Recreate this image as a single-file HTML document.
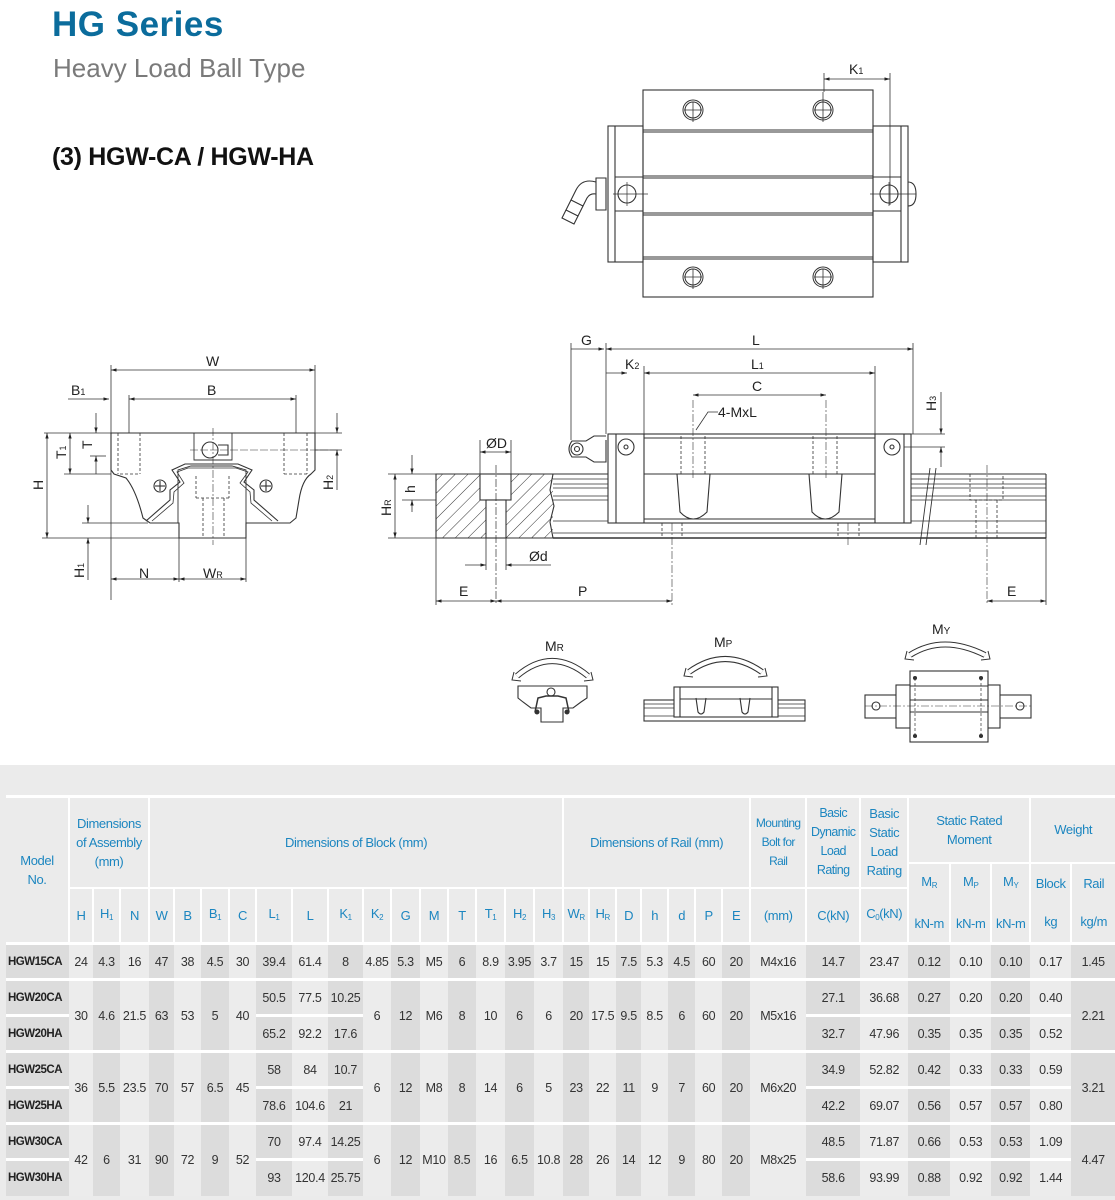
<!DOCTYPE html>
<html><head><meta charset="utf-8">
<style>
html,body{margin:0;padding:0;background:#fff;}
body{width:1115px;height:1200px;position:relative;overflow:hidden;font-family:"Liberation Sans",sans-serif;}
.t1{position:absolute;left:52px;top:5px;font-size:35px;font-weight:bold;color:#0b6c9c;letter-spacing:0.5px;}
.t2{position:absolute;left:53px;top:53px;font-size:26px;color:#7a7a7a;}
.t3{position:absolute;left:52px;top:143px;font-size:25px;color:#111;font-weight:bold;letter-spacing:-0.3px;}
svg.d{position:absolute;left:0;top:0;}
.bg{position:absolute;left:0;top:765px;width:1115px;height:435px;background:#ebebeb;}
table{position:absolute;left:6px;top:795px;border-collapse:collapse;table-layout:fixed;width:1109px;font-family:"Liberation Sans Narrow","Liberation Sans",sans-serif;}
td{text-align:center;vertical-align:middle;padding:0;font-size:12.5px;color:#333;white-space:nowrap;overflow:hidden;letter-spacing:-0.3px;}
thead td{color:#1c86c0;font-size:13px;border:2px solid #fff;background:#ebebeb;line-height:19px;letter-spacing:-0.4px;}
thead tr.top td{border-top:3px solid #fff;}
sub{font-size:8px;vertical-align:-2px;}
tbody td{background:#ececec;}
tbody td.k{background:#dcdcdc;}
tbody tr.g td{border-top:3px solid #fff;}
tbody td.s{border-top:3px solid #fff;}
tbody td.m{font-weight:bold;color:#222;text-align:left;padding-left:2px;background:#dcdcdc;font-size:11.5px;letter-spacing:-0.5px;}
</style></head><body>
<div class="t1">HG Series</div>
<div class="t2">Heavy Load Ball Type</div>
<div class="t3">(3) HGW-CA / HGW-HA</div>

<svg class="d" width="1115" height="765" viewBox="0 0 1115 765" xmlns="http://www.w3.org/2000/svg" font-family="Liberation Sans, sans-serif">
<defs>
<marker id="a" viewBox="0 0 10 10" refX="10" refY="5" markerWidth="7" markerHeight="7" orient="auto-start-reverse"><path d="M0,2 L10,5 L0,8 z" fill="#222"/></marker>
<pattern id="h" width="9" height="9" patternUnits="userSpaceOnUse" patternTransform="rotate(45)"><line x1="0" y1="0" x2="0" y2="9" stroke="#333" stroke-width="1"/></pattern>
</defs>
<g fill="none" stroke="#333" stroke-width="1.1">

<!-- TOP VIEW -->
<rect x="643" y="90" width="230" height="207"/>
<line x1="643" y1="130" x2="873" y2="130"/><line x1="643" y1="132" x2="873" y2="132"/>
<line x1="643" y1="176" x2="873" y2="176"/><line x1="643" y1="178" x2="873" y2="178"/>
<line x1="643" y1="213" x2="873" y2="213"/><line x1="643" y1="215" x2="873" y2="215"/>
<line x1="643" y1="257" x2="873" y2="257"/><line x1="643" y1="259" x2="873" y2="259"/>
<rect x="608" y="126" width="35" height="136"/><line x1="615" y1="126" x2="615" y2="262"/>
<rect x="873" y="126" width="35" height="136"/><line x1="901" y1="126" x2="901" y2="262"/>
<line x1="615" y1="177" x2="643" y2="177"/><line x1="615" y1="211" x2="643" y2="211"/>
<line x1="873" y1="177" x2="901" y2="177"/><line x1="873" y1="211" x2="901" y2="211"/>
<circle cx="627" cy="194" r="9"/><circle cx="889" cy="194" r="9"/>
<line x1="613" y1="194" x2="648" y2="194" stroke-width="0.7"/><line x1="627" y1="182" x2="627" y2="206" stroke-width="0.7"/>
<line x1="870" y1="194" x2="916" y2="194" stroke-width="0.7"/><line x1="889" y1="182" x2="889" y2="206" stroke-width="0.7"/>
<path d="M908,182 q8,0 8,12 q0,12 -8,12"/>
<g stroke-width="1"><circle cx="693" cy="110" r="10"/><circle cx="693" cy="110" r="8"/><circle cx="823" cy="110" r="10"/><circle cx="823" cy="110" r="8"/>
<circle cx="693" cy="277" r="10"/><circle cx="693" cy="277" r="8"/><circle cx="823" cy="277" r="10"/><circle cx="823" cy="277" r="8"/></g>
<g stroke-width="0.8"><line x1="693" y1="102" x2="693" y2="122"/><line x1="684" y1="110" x2="702" y2="110"/>
<line x1="823" y1="92" x2="823" y2="122"/><line x1="814" y1="110" x2="832" y2="110"/>
<line x1="693" y1="269" x2="693" y2="289"/><line x1="684" y1="277" x2="702" y2="277"/>
<line x1="823" y1="269" x2="823" y2="289"/><line x1="814" y1="277" x2="832" y2="277"/></g>
<path d="M606,178 L606,210 L596,210 L596,178 z"/>
<path d="M596,182 q-14,-4 -20,8 l-5,10 l12,6 l4,-8 q3,-5 9,-4"/>
<path d="M571,200 l-5,10 l12,6 l5,-10"/>
<path d="M566,210 l-4,8 l12,6 l4,-8"/>
<line x1="824" y1="73" x2="824" y2="92" stroke-width="0.8"/><line x1="890" y1="73" x2="890" y2="205" stroke-width="0.8"/>
<line x1="824" y1="79" x2="890" y2="79" marker-start="url(#a)" marker-end="url(#a)" stroke-width="0.8"/>

<!-- END VIEW -->
<path d="M111,433 L315,433 L315,470 L311,474 Q302,480 299,500 L296,518 L290,523 L246,523 L246,538 L179,538 L179,523 L150,523 L143,518 Q136,490 126,478 L114,474 L111,470 Z"/>
<path d="M178,523 L178,470 L191,466 L232,466 L246,470 L246,523" stroke-width="0.9"/>
<path d="M146,521 L170,500 L170,490 L180,482 L172,470 L185,464 L238,464 L252,470 L244,482 L254,490 L254,500 L278,521" stroke-width="1.1"/>
<path d="M152,521 L173,503 L174,492 L184,483 L177,472 L188,468 L236,468 L248,472 L240,483 L250,492 L251,503 L272,521" stroke-width="0.8"/>
<g stroke-dasharray="3,2" stroke-width="0.8">
<line x1="118" y1="433" x2="118" y2="474"/><line x1="140" y1="433" x2="140" y2="474"/><line x1="120" y1="474" x2="140" y2="474"/>
<line x1="284" y1="433" x2="284" y2="474"/><line x1="307" y1="433" x2="307" y2="474"/><line x1="284" y1="474" x2="307" y2="474"/>
<line x1="196" y1="476" x2="196" y2="498"/><line x1="229" y1="476" x2="229" y2="498"/><line x1="196" y1="498" x2="229" y2="498"/>
<line x1="203" y1="498" x2="203" y2="538"/><line x1="224" y1="498" x2="224" y2="538"/>
</g>
<line x1="213" y1="428" x2="213" y2="545" stroke-width="0.6" stroke-dasharray="8,2,2,2"/>
<path d="M194,433 L194,460 L232,460 L232,433" stroke-width="0.9"/>
<circle cx="210" cy="450" r="8"/><path d="M218,445 L228,445 L228,455 L218,455" />
<line x1="190" y1="450" x2="340" y2="450" stroke-width="0.6" stroke-dasharray="8,2"/>
<circle cx="160" cy="486" r="6"/><line x1="155" y1="486" x2="165" y2="486"/><line x1="160" y1="481" x2="160" y2="491"/>
<circle cx="266" cy="486" r="6"/><line x1="261" y1="486" x2="271" y2="486"/><line x1="266" y1="481" x2="266" y2="491"/>
<g stroke-width="0.8">
<line x1="111" y1="365" x2="111" y2="600"/><line x1="315" y1="365" x2="315" y2="433"/>
<line x1="111" y1="370" x2="315" y2="370" marker-start="url(#a)" marker-end="url(#a)"/>
<line x1="129" y1="395" x2="129" y2="433"/><line x1="296" y1="395" x2="296" y2="433"/>
<line x1="129" y1="399" x2="296" y2="399" marker-start="url(#a)" marker-end="url(#a)"/>
<line x1="68" y1="399" x2="109" y2="399" marker-end="url(#a)"/>
<line x1="44" y1="433" x2="111" y2="433"/><line x1="64" y1="474" x2="111" y2="474"/>
<line x1="47" y1="433" x2="47" y2="538" marker-start="url(#a)" marker-end="url(#a)"/>
<line x1="70" y1="433" x2="70" y2="474" marker-start="url(#a)" marker-end="url(#a)"/>
<line x1="96" y1="413" x2="96" y2="433" marker-end="url(#a)"/><line x1="96" y1="456" x2="96" y2="474" marker-start="url(#a)"/>
<line x1="90" y1="456" x2="106" y2="456"/>
<line x1="42" y1="538" x2="179" y2="538"/>
<line x1="82" y1="523" x2="148" y2="523"/>
<line x1="88" y1="505" x2="88" y2="523" marker-end="url(#a)"/><line x1="88" y1="538" x2="88" y2="580" marker-start="url(#a)"/>
<line x1="315" y1="433" x2="342" y2="433"/><line x1="315" y1="450" x2="342" y2="450"/>
<line x1="337" y1="413" x2="337" y2="433" marker-end="url(#a)"/><line x1="337" y1="450" x2="337" y2="490" marker-start="url(#a)"/>
<line x1="179" y1="538" x2="179" y2="582"/><line x1="246" y1="538" x2="246" y2="582"/>
<line x1="111" y1="579" x2="179" y2="579" marker-start="url(#a)" marker-end="url(#a)"/>
<line x1="179" y1="579" x2="246" y2="579" marker-start="url(#a)" marker-end="url(#a)"/>
</g>

<!-- SIDE VIEW -->
<rect x="436" y="474" width="117" height="64" fill="url(#h)" stroke="none"/>
<path d="M436,474 L553,474 L550,490 L554,506 L550,522 L553,538 L436,538 Z"/>
<rect x="480" y="474" width="31" height="26" fill="#fff"/>
<rect x="486" y="500" width="20" height="38" fill="#fff"/>
<line x1="496" y1="465" x2="496" y2="605" stroke-width="0.7" stroke-dasharray="8,2,2,2"/>
<line x1="553" y1="474" x2="1046" y2="474"/><line x1="553" y1="538" x2="1046" y2="538" stroke-width="1.4"/>
<g stroke-width="0.8">
<line x1="553" y1="479" x2="1046" y2="479"/><line x1="553" y1="484" x2="1046" y2="484"/><line x1="553" y1="488" x2="1046" y2="488"/>
<line x1="553" y1="496" x2="1046" y2="496"/><line x1="553" y1="500" x2="1046" y2="500"/><line x1="553" y1="521" x2="1046" y2="521"/><line x1="553" y1="533" x2="1046" y2="533"/>
</g>
<line x1="1046" y1="474" x2="1046" y2="538"/>
<rect x="608" y="434" width="303" height="89" fill="#fff"/>
<line x1="616" y1="434" x2="616" y2="523"/><line x1="644" y1="434" x2="644" y2="523"/>
<line x1="875" y1="434" x2="875" y2="523"/><line x1="904" y1="434" x2="904" y2="523"/>
<line x1="644" y1="438" x2="875" y2="438"/><line x1="644" y1="474" x2="875" y2="474"/><line x1="644" y1="519" x2="875" y2="519"/>
<circle cx="626" cy="447" r="8"/><circle cx="626" cy="447" r="2"/>
<circle cx="892" cy="447" r="8"/><circle cx="892" cy="447" r="2"/>
<path d="M677,474 L680,512 Q693,526 707,512 L710,474"/>
<path d="M809,474 L812,512 Q825,526 839,512 L842,474"/>
<g stroke-dasharray="3,2" stroke-width="0.8">
<line x1="681" y1="436" x2="681" y2="474"/><line x1="705" y1="436" x2="705" y2="474"/>
<line x1="813" y1="436" x2="813" y2="474"/><line x1="837" y1="436" x2="837" y2="474"/>
<line x1="662" y1="523" x2="662" y2="538"/><line x1="682" y1="523" x2="682" y2="538"/>
<line x1="838" y1="523" x2="838" y2="538"/><line x1="859" y1="523" x2="859" y2="538"/>
<rect x="970" y="474" width="33" height="26"/><line x1="976" y1="500" x2="976" y2="538"/><line x1="997" y1="500" x2="997" y2="538"/>
</g>
<g stroke-width="0.6" stroke-dasharray="8,2,2,2">
<line x1="693" y1="400" x2="693" y2="480"/><line x1="826" y1="400" x2="826" y2="480"/>
<line x1="672" y1="523" x2="672" y2="605"/><line x1="848" y1="523" x2="848" y2="545"/><line x1="987" y1="465" x2="987" y2="605"/>
</g>
<path d="M930,468 L920,545 M936,468 L926,545" stroke-width="0.9"/>
<path d="M606,440 L606,462 L594,462 L586,457 L572,457 Q566,449 572,441 L586,441 L594,436 L606,436" fill="#fff"/>
<circle cx="577" cy="449" r="6"/><circle cx="577" cy="449" r="2.5"/>
<g stroke-width="0.8">
<line x1="571" y1="343" x2="571" y2="440"/><line x1="606" y1="343" x2="606" y2="434"/><line x1="913" y1="343" x2="913" y2="434"/>
<line x1="571" y1="349" x2="604" y2="349" marker-end="url(#a)"/>
<line x1="606" y1="349" x2="913" y2="349" marker-start="url(#a)" marker-end="url(#a)"/>
<line x1="644" y1="366" x2="644" y2="434"/><line x1="875" y1="366" x2="875" y2="434"/>
<line x1="606" y1="373" x2="627" y2="373" marker-end="url(#a)"/>
<line x1="644" y1="373" x2="875" y2="373" marker-start="url(#a)" marker-end="url(#a)"/>
<line x1="693" y1="395" x2="826" y2="395" marker-start="url(#a)" marker-end="url(#a)"/>
<path d="M696,430 L708,412 L718,412"/>
<line x1="875" y1="434" x2="945" y2="434"/><line x1="904" y1="447" x2="945" y2="447"/>
<line x1="941" y1="392" x2="941" y2="434" marker-end="url(#a)"/><line x1="941" y1="447" x2="941" y2="467" marker-start="url(#a)"/>
<line x1="388" y1="474" x2="436" y2="474"/><line x1="388" y1="538" x2="436" y2="538"/><line x1="402" y1="500" x2="436" y2="500"/>
<line x1="395" y1="474" x2="395" y2="538" marker-start="url(#a)" marker-end="url(#a)"/>
<line x1="412" y1="455" x2="412" y2="474" marker-end="url(#a)"/><line x1="412" y1="500" x2="412" y2="512" marker-start="url(#a)"/>
<line x1="480" y1="440" x2="480" y2="474"/><line x1="511" y1="440" x2="511" y2="474"/>
<line x1="480" y1="452" x2="511" y2="452" marker-start="url(#a)" marker-end="url(#a)"/>
<line x1="486" y1="538" x2="486" y2="570"/><line x1="506" y1="538" x2="506" y2="570"/>
<line x1="465" y1="565" x2="486" y2="565" marker-end="url(#a)"/><line x1="551" y1="565" x2="506" y2="565" marker-end="url(#a)"/>
<line x1="436" y1="538" x2="436" y2="605"/><line x1="1046" y1="538" x2="1046" y2="605"/>
<line x1="436" y1="601" x2="496" y2="601" marker-start="url(#a)" marker-end="url(#a)"/>
<line x1="496" y1="601" x2="672" y2="601" marker-start="url(#a)" marker-end="url(#a)"/>
<line x1="987" y1="601" x2="1046" y2="601" marker-start="url(#a)" marker-end="url(#a)"/>
</g>

<!-- MOMENT ICONS -->
<path d="M517,676 Q552,646 588,676" stroke-width="6" stroke="#333"/><path d="M517,676 Q552,646 588,676" stroke-width="4" stroke="#fff"/>
<path d="M514,672 l-2,8 l9,1" stroke-width="1"/><path d="M591,672 l2,8 l-9,1" stroke-width="1"/>
<path d="M518,686 L587,686 L587,698 L581,702 L573,708 L563,708 L563,722 L541,722 L541,708 L531,708 L523,702 L518,698 Z"/>
<path d="M535,712 L538,698 L546,696 L558,696 L566,698 L569,712" stroke-width="1.5"/>
<circle cx="551" cy="692" r="4"/><circle cx="537" cy="712" r="2" fill="#333"/><circle cx="567" cy="712" r="2" fill="#333"/>

<path d="M689,672 Q725,646 762,672" stroke-width="6"/><path d="M689,672 Q725,646 762,672" stroke-width="4" stroke="#fff"/>
<path d="M686,668 l-2,8 l9,1" stroke-width="1"/><path d="M765,668 l2,8 l-9,1" stroke-width="1"/>
<rect x="644" y="700" width="161" height="21"/><line x1="644" y1="704" x2="805" y2="704" stroke-width="0.7"/><line x1="644" y1="708" x2="805" y2="708" stroke-width="0.7"/><line x1="644" y1="716" x2="805" y2="716" stroke-width="0.7"/>
<rect x="674" y="687" width="104" height="30" fill="#fff"/><line x1="680" y1="687" x2="680" y2="717"/><line x1="772" y1="687" x2="772" y2="717"/><line x1="680" y1="699" x2="772" y2="699"/>
<path d="M696,698 L698,712 Q701,716 704,712 L706,698"/><path d="M740,698 L742,712 Q745,716 748,712 L750,698"/>

<path d="M910,655 Q943,634 985,655" stroke-width="6"/><path d="M910,655 Q943,634 985,655" stroke-width="4" stroke="#fff"/>
<path d="M907,651 l-2,8 l9,1" stroke-width="1"/><path d="M988,651 l2,8 l-9,1" stroke-width="1"/>
<rect x="865" y="695" width="166" height="23"/>
<rect x="896" y="685" width="104" height="43" fill="#fff"/>
<rect x="910" y="671" width="78" height="71" fill="#fff"/>
<line x1="910" y1="686" x2="988" y2="686"/><line x1="910" y1="700" x2="988" y2="700"/><line x1="910" y1="712" x2="988" y2="712"/>
<line x1="865" y1="706" x2="1031" y2="706" stroke-width="0.6" stroke-dasharray="8,2,2,2"/>
<circle cx="876" cy="706" r="4"/><circle cx="1020" cy="706" r="4"/>
<g stroke-dasharray="3,2" stroke-width="0.7"><line x1="915" y1="678" x2="915" y2="736"/><line x1="981" y1="678" x2="981" y2="736"/></g>
<circle cx="915" cy="678" r="1.5" fill="#333"/><circle cx="981" cy="678" r="1.5" fill="#333"/><circle cx="915" cy="736" r="1.5" fill="#333"/><circle cx="981" cy="736" r="1.5" fill="#333"/>
</g>

<g fill="#222" font-size="14">
<text x="849" y="74">K<tspan font-size="9">1</tspan></text>
<text x="206" y="366">W</text>
<text x="207" y="395">B</text>
<text x="71" y="395">B<tspan font-size="9">1</tspan></text>
<text x="139" y="578">N</text>
<text x="203" y="578">W<tspan font-size="9">R</tspan></text>
<text transform="translate(43,490) rotate(-90)">H</text>
<text transform="translate(66,459) rotate(-90)">T<tspan font-size="9">1</tspan></text>
<text transform="translate(92,449) rotate(-90)">T</text>
<text transform="translate(333,490) rotate(-90)">H<tspan font-size="9">2</tspan></text>
<text transform="translate(84,578) rotate(-90)">H<tspan font-size="9">1</tspan></text>
<text x="581" y="345">G</text>
<text x="752" y="345">L</text>
<text x="625" y="369">K<tspan font-size="9">2</tspan></text>
<text x="751" y="369">L<tspan font-size="9">1</tspan></text>
<text x="752" y="391">C</text>
<text x="718" y="417">4-MxL</text>
<text transform="translate(936,411) rotate(-90)">H<tspan font-size="9">3</tspan></text>
<text x="486" y="448">ØD</text>
<text x="529" y="561">Ød</text>
<text x="459" y="596">E</text>
<text x="578" y="596">P</text>
<text x="1007" y="596">E</text>
<text transform="translate(391,516) rotate(-90)">H<tspan font-size="9">R</tspan></text>
<text transform="translate(415,493) rotate(-90)">h</text>
<text x="545" y="651">M<tspan font-size="10">R</tspan></text>
<text x="714" y="647">M<tspan font-size="10">P</tspan></text>
<text x="932" y="634">M<tspan font-size="10">Y</tspan></text>
</g>
</svg>

<div class="bg"></div>
<table>
<colgroup>
<col style="width:63px"><col style="width:24px"><col style="width:27px"><col style="width:29px"><col style="width:25px"><col style="width:27px"><col style="width:28px"><col style="width:27px"><col style="width:36px"><col style="width:36px"><col style="width:35px"><col style="width:28px"><col style="width:29px"><col style="width:28px"><col style="width:28px"><col style="width:29px"><col style="width:29px"><col style="width:29px"><col style="width:26px"><col style="width:27px"><col style="width:25px"><col style="width:27px"><col style="width:27px"><col style="width:27px"><col style="width:28px"><col style="width:56px"><col style="width:54px"><col style="width:48px"><col style="width:42px"><col style="width:41px"><col style="width:39px"><col style="width:41px"><col style="width:44px">
</colgroup>
<thead>
<tr class="top" style="height:66px">
<td rowspan="3" style="border-left:none">Model<br>No.</td>
<td colspan="3" rowspan="2">Dimensions<br>of Assembly<br>(mm)</td>
<td colspan="14" rowspan="2">Dimensions of Block (mm)</td>
<td colspan="7" rowspan="2">Dimensions of Rail (mm)</td>
<td rowspan="2" style="font-size:12px;letter-spacing:-0.6px">Mounting<br>Bolt for<br>Rail</td>
<td rowspan="2" style="font-size:12.5px;letter-spacing:-0.6px">Basic<br>Dynamic<br>Load<br>Rating</td>
<td rowspan="2">Basic<br>Static<br>Load<br>Rating</td>
<td colspan="3">Static Rated<br>Moment</td>
<td colspan="2" style="border-right:none">Weight</td>
</tr>
<tr style="height:25px">
<td rowspan="2">M<sub>R</sub><br><br>kN-m</td>
<td rowspan="2">M<sub>P</sub><br><br>kN-m</td>
<td rowspan="2">M<sub>Y</sub><br><br>kN-m</td>
<td rowspan="2">Block<br><br>kg</td>
<td rowspan="2" style="border-right:none">Rail<br><br>kg/m</td>
</tr>
<tr style="height:56px">
<td>H</td><td>H<sub>1</sub></td><td>N</td><td>W</td><td>B</td><td>B<sub>1</sub></td><td>C</td><td>L<sub>1</sub></td><td>L</td><td>K<sub>1</sub></td><td>K<sub>2</sub></td><td>G</td><td>M</td><td>T</td><td>T<sub>1</sub></td><td>H<sub>2</sub></td><td>H<sub>3</sub></td><td>W<sub>R</sub></td><td>H<sub>R</sub></td><td>D</td><td>h</td><td>d</td><td>P</td><td>E</td><td>(mm)</td><td>C(kN)</td><td>C<sub>0</sub>(kN)</td>
</tr>
</thead>
<tbody>
<tr class="g" style="height:36px">
<td class="m">HGW15CA</td><td>24</td><td class="k">4.3</td><td>16</td><td class="k">47</td><td>38</td><td class="k">4.5</td><td>30</td><td class="k">39.4</td><td>61.4</td><td class="k">8</td><td>4.85</td><td class="k">5.3</td><td>M5</td><td class="k">6</td><td>8.9</td><td class="k">3.95</td><td>3.7</td><td class="k">15</td><td>15</td><td class="k">7.5</td><td>5.3</td><td class="k">4.5</td><td>60</td><td class="k">20</td><td>M4x16</td><td class="k">14.7</td><td>23.47</td><td class="k">0.12</td><td>0.10</td><td class="k">0.10</td><td>0.17</td><td class="k">1.45</td>
</tr>
<tr class="g" style="height:36px">
<td class="m">HGW20CA</td><td rowspan="2">30</td><td rowspan="2" class="k">4.6</td><td rowspan="2">21.5</td><td rowspan="2" class="k">63</td><td rowspan="2">53</td><td rowspan="2" class="k">5</td><td rowspan="2">40</td><td class="k">50.5</td><td>77.5</td><td class="k">10.25</td><td rowspan="2">6</td><td rowspan="2" class="k">12</td><td rowspan="2">M6</td><td rowspan="2" class="k">8</td><td rowspan="2">10</td><td rowspan="2" class="k">6</td><td rowspan="2">6</td><td rowspan="2" class="k">20</td><td rowspan="2">17.5</td><td rowspan="2" class="k">9.5</td><td rowspan="2">8.5</td><td rowspan="2" class="k">6</td><td rowspan="2">60</td><td rowspan="2" class="k">20</td><td rowspan="2">M5x16</td><td class="k">27.1</td><td>36.68</td><td class="k">0.27</td><td>0.20</td><td class="k">0.20</td><td>0.40</td><td rowspan="2" class="k">2.21</td>
</tr>
<tr style="height:36px">
<td class="m s">HGW20HA</td><td class="k s">65.2</td><td class="s">92.2</td><td class="k s">17.6</td><td class="k s">32.7</td><td class="s">47.96</td><td class="k s">0.35</td><td class="s">0.35</td><td class="k s">0.35</td><td class="s">0.52</td>
</tr>
<tr class="g" style="height:36px">
<td class="m">HGW25CA</td><td rowspan="2">36</td><td rowspan="2" class="k">5.5</td><td rowspan="2">23.5</td><td rowspan="2" class="k">70</td><td rowspan="2">57</td><td rowspan="2" class="k">6.5</td><td rowspan="2">45</td><td class="k">58</td><td>84</td><td class="k">10.7</td><td rowspan="2">6</td><td rowspan="2" class="k">12</td><td rowspan="2">M8</td><td rowspan="2" class="k">8</td><td rowspan="2">14</td><td rowspan="2" class="k">6</td><td rowspan="2">5</td><td rowspan="2" class="k">23</td><td rowspan="2">22</td><td rowspan="2" class="k">11</td><td rowspan="2">9</td><td rowspan="2" class="k">7</td><td rowspan="2">60</td><td rowspan="2" class="k">20</td><td rowspan="2">M6x20</td><td class="k">34.9</td><td>52.82</td><td class="k">0.42</td><td>0.33</td><td class="k">0.33</td><td>0.59</td><td rowspan="2" class="k">3.21</td>
</tr>
<tr style="height:36px">
<td class="m s">HGW25HA</td><td class="k s">78.6</td><td class="s">104.6</td><td class="k s">21</td><td class="k s">42.2</td><td class="s">69.07</td><td class="k s">0.56</td><td class="s">0.57</td><td class="k s">0.57</td><td class="s">0.80</td>
</tr>
<tr class="g" style="height:36px">
<td class="m">HGW30CA</td><td rowspan="2">42</td><td rowspan="2" class="k">6</td><td rowspan="2">31</td><td rowspan="2" class="k">90</td><td rowspan="2">72</td><td rowspan="2" class="k">9</td><td rowspan="2">52</td><td class="k">70</td><td>97.4</td><td class="k">14.25</td><td rowspan="2">6</td><td rowspan="2" class="k">12</td><td rowspan="2">M10</td><td rowspan="2" class="k">8.5</td><td rowspan="2">16</td><td rowspan="2" class="k">6.5</td><td rowspan="2">10.8</td><td rowspan="2" class="k">28</td><td rowspan="2">26</td><td rowspan="2" class="k">14</td><td rowspan="2">12</td><td rowspan="2" class="k">9</td><td rowspan="2">80</td><td rowspan="2" class="k">20</td><td rowspan="2">M8x25</td><td class="k">48.5</td><td>71.87</td><td class="k">0.66</td><td>0.53</td><td class="k">0.53</td><td>1.09</td><td rowspan="2" class="k">4.47</td>
</tr>
<tr style="height:36px">
<td class="m s">HGW30HA</td><td class="k s">93</td><td class="s">120.4</td><td class="k s">25.75</td><td class="k s">58.6</td><td class="s">93.99</td><td class="k s">0.88</td><td class="s">0.92</td><td class="k s">0.92</td><td class="s">1.44</td>
</tr>
</tbody>
</table>
</body></html>
